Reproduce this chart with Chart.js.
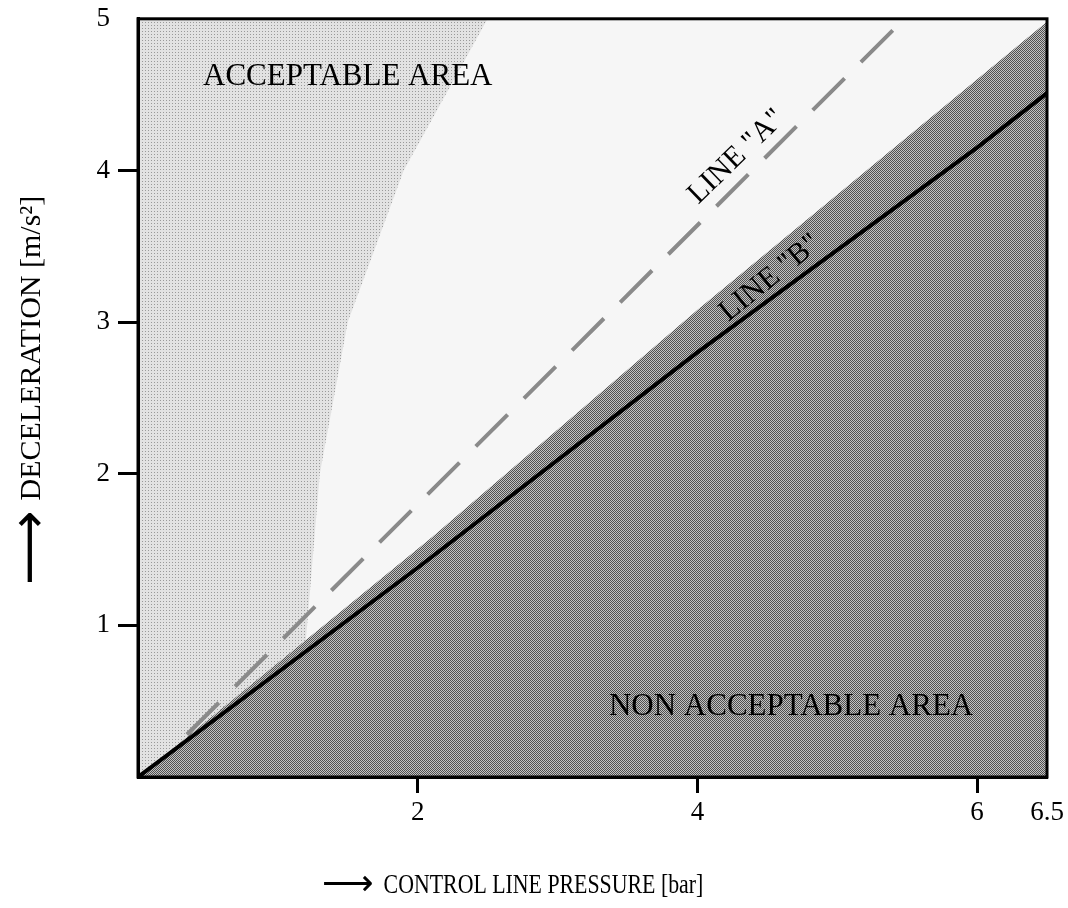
<!DOCTYPE html>
<html>
<head>
<meta charset="utf-8">
<script src="https://cdn.jsdelivr.net/npm/chart.js@4"></script>
<style>
    body { margin: 0; background: #fff; }
    #wrap { width: 1068px; height: 908px; }
</style>
</head>
<body>
<div id="wrap"><canvas id="chart" width="1068" height="908"></canvas></div>
<script>
// Values (x = control line pressure [bar], y = deceleration [m/s²])
const lineBX = [0, 2, 4, 6, 6.5];
const lineBY = [0, 1.38, 2.80, 4.15, 4.51];
const lineAX = [0.35, 5.48];
const lineAY = [0.28, 5.0];
// upper edge of the dark band above line "B"
const bandX = [0, 2.1, 4.0, 6.5];
const bandY = [0, 1.58, 3.08, 4.98];
// left edge of the clear (unshaded) zone around line "A"
const clearX = [0, 1.2, 1.3, 1.5, 1.9, 2.5, 6.5];
const clearY = [0, 0.9, 2.0, 3.0, 4.0, 5.0, 5.0];
const xTickValues = [2, 4, 6, 6.5];
const yTickValues = [1, 2, 3, 4, 5];

const SERIF = "'Liberation Serif', 'Times New Roman', serif";

function toPoints(xs, ys) {
    return xs.map((x, i) => ({ x: x, y: ys[i] }));
}

// small halftone-like fill patterns
function makePattern(size, base, dot, cells) {
    const c = document.createElement('canvas');
    c.width = size;
    c.height = size;
    const g = c.getContext('2d');
    g.fillStyle = base;
    g.fillRect(0, 0, size, size);
    g.fillStyle = dot;
    cells.forEach(([x, y]) => g.fillRect(x, y, 1, 1));
    return g.createPattern(c, 'repeat');
}

const darkPattern = makePattern(2, '#c2c2c2', '#505050', [[0, 0], [1, 1]]);
const lightPattern = makePattern(3, '#e2e2e2', '#999999', [[1, 1]]);

const plotBackground = {
    id: 'plotBackground',
    beforeDraw(chart) {
        const { ctx, chartArea: a } = chart;
        ctx.save();
        ctx.fillStyle = lightPattern;
        ctx.fillRect(a.left, a.top, a.right - a.left, a.bottom - a.top);
        ctx.restore();
    }
};

// arrow + title, arrow a little larger like the original print
function drawAxisTitle(ctx, x, y, text, arrowSize, textSize, squeeze) {
    ctx.font = arrowSize + "px 'DejaVu Sans', sans-serif";
    ctx.fillText('\u27F6', x, y);
    const gap = ctx.measureText('\u27F6').width + 10;
    ctx.save();
    ctx.translate(x + gap, y);
    ctx.scale(squeeze, 1);
    ctx.font = textSize + 'px ' + SERIF;
    ctx.fillText(text, 0, 0);
    ctx.restore();
}

const frameAndLabels = {
    id: 'frameAndLabels',
    afterDatasetsDraw(chart) {
        const { ctx, chartArea: a, scales } = chart;
        const px = v => scales.x.getPixelForValue(v);
        const py = v => scales.y.getPixelForValue(v);

        ctx.save();
        ctx.strokeStyle = '#000';
        ctx.lineWidth = 3;
        ctx.strokeRect(a.left, a.top, a.right - a.left, a.bottom - a.top);

        ctx.fillStyle = '#000';
        ctx.textAlign = 'center';
        ctx.textBaseline = 'middle';
        ctx.font = '31px ' + SERIF;
        ctx.fillText('ACCEPTABLE AREA', px(1.5), py(4.62));
        ctx.fillText('NON ACCEPTABLE AREA', px(4.67), py(0.46));

        ctx.font = '30px ' + SERIF;
        ctx.save();
        ctx.translate(px(4.28), py(4.09));
        ctx.rotate(-44 * Math.PI / 180);
        ctx.fillText('LINE "A"', 0, 0);
        ctx.restore();

        ctx.save();
        ctx.translate(px(4.52), py(3.29));
        ctx.rotate(-39 * Math.PI / 180);
        ctx.fillText('LINE "B"', 0, 0);
        ctx.restore();

        ctx.textAlign = 'left';
        ctx.textBaseline = 'middle';
        // x axis title, left of centre as in the original
        drawAxisTitle(ctx, 322, 886, 'CONTROL LINE PRESSURE [bar]', 36, 28, 0.78);

        // y axis title, reading upwards
        ctx.save();
        ctx.translate(32, 585);
        ctx.rotate(-Math.PI / 2);
        drawAxisTitle(ctx, 0, 0, 'DECELERATION [m/s\u00B2]', 52, 30, 1);
        ctx.restore();
        ctx.restore();
    }
};

const hideEdgeTick = edge => c => (c.tick && c.tick.value === edge ? 'rgba(0,0,0,0)' : '#000');

new Chart(document.getElementById('chart'), {
    type: 'line',
    data: {
        datasets: [
            {
                label: 'Line B',
                data: toPoints(lineBX, lineBY),
                borderColor: '#000',
                borderWidth: 4,
                backgroundColor: darkPattern,
                fill: 'start',
                pointRadius: 0,
                tension: 0
            },
            {
                label: 'Line A',
                data: toPoints(lineAX, lineAY),
                borderColor: '#8a8a8a',
                borderWidth: 4,
                borderDash: [45, 23],
                fill: false,
                pointRadius: 0,
                tension: 0
            },
            {
                label: 'Band',
                data: toPoints(bandX, bandY),
                borderWidth: 0,
                borderColor: 'rgba(0,0,0,0)',
                backgroundColor: darkPattern,
                fill: 0,
                pointRadius: 0,
                tension: 0
            },
            {
                label: 'Clear',
                data: toPoints(clearX, clearY),
                borderWidth: 0,
                borderColor: 'rgba(0,0,0,0)',
                backgroundColor: '#f6f6f6',
                fill: 2,
                pointRadius: 0,
                tension: 0
            }
        ]
    },
    options: {
        responsive: false,
        animation: false,
        layout: { padding: { top: 11, right: 21, left: 0, bottom: 0 } },
        plugins: {
            legend: { display: false },
            tooltip: { enabled: false }
        },
        scales: {
            x: {
                type: 'linear',
                min: 0,
                max: 6.5,
                afterBuildTicks: s => { s.ticks = xTickValues.map(v => ({ value: v })); },
                afterFit: s => { s.height = 131; },
                ticks: {
                    callback: v => String(v),
                    color: '#000',
                    font: { family: SERIF, size: 27 },
                    padding: 4,
                    maxRotation: 0,
                    autoSkip: false
                },
                grid: {
                    drawOnChartArea: false,
                    drawTicks: true,
                    tickLength: 16,
                    tickWidth: 3,
                    tickColor: hideEdgeTick(6.5)
                },
                border: { display: true, color: '#000', width: 3 }
            },
            y: {
                type: 'linear',
                min: 0,
                max: 5,
                afterBuildTicks: s => { s.ticks = yTickValues.map(v => ({ value: v })); },
                afterFit: s => { s.width = 138; },
                ticks: {
                    callback: v => String(v),
                    color: '#000',
                    font: { family: SERIF, size: 27, lineHeight: 0.8 },
                    padding: 8,
                    autoSkip: false
                },
                grid: {
                    drawOnChartArea: false,
                    drawTicks: true,
                    tickLength: 20,
                    tickWidth: 3,
                    tickColor: hideEdgeTick(5)
                },
                border: { display: true, color: '#000', width: 3 }
            }
        }
    },
    plugins: [plotBackground, frameAndLabels]
});
</script>
</body>
</html>
